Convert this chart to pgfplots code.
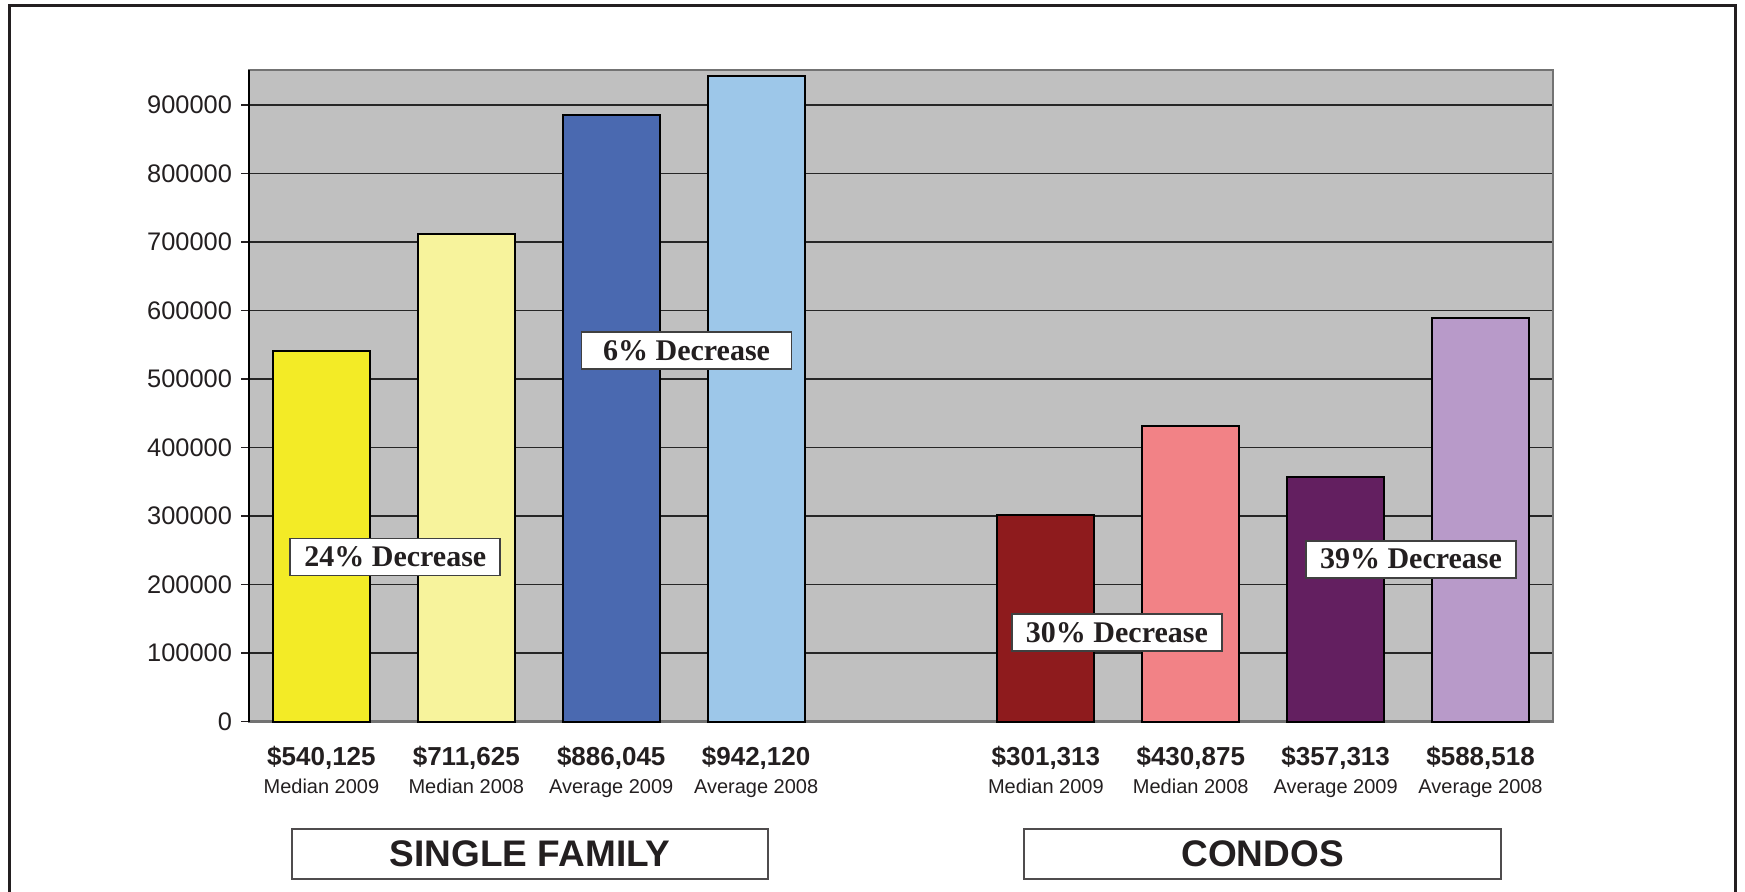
\documentclass[border=0pt]{standalone}
\usepackage{fontspec}
\setmainfont{Liberation Sans}
\newfontfamily\tnr{Liberation Serif}
\usepackage{pgfplots}
\pgfplotsset{compat=1.18}
\definecolor{txt}{HTML}{231F20}
\definecolor{plotbg}{HTML}{C0C0C0}
\definecolor{cA}{HTML}{F3EB26}
\definecolor{cB}{HTML}{F7F39C}
\definecolor{cC}{HTML}{4A69B0}
\definecolor{cD}{HTML}{9DC7E9}
\definecolor{cE}{HTML}{8E1B1D}
\definecolor{cF}{HTML}{F28286}
\definecolor{cG}{HTML}{631F60}
\definecolor{cH}{HTML}{B89AC9}
\newcommand\valf{\bfseries\fontsize{13}{15}\selectfont}
\newcommand\labf{\fontsize{10}{12}\selectfont}
\begin{document}
\begin{tikzpicture}[x=0.5pt,y=0.5pt]
\useasboundingbox (0,0) rectangle (1745,891);
\begin{scope}
\clip (0,0) rectangle (1745,891);
\draw[line width=1.5pt, draw=txt] (9,-20) -- (9,885) -- (1735,885) -- (1735,-20);
\end{scope}
\begin{axis}[
  at={(124.5pt,84.75pt)}, anchor=south west,
  scale only axis, width=652pt, height=325.75pt,
  xmin=-0.5, xmax=8.5, ymin=0, ymax=951000,
  axis background/.style={fill=plotbg},
  axis line style={draw=gray!90!black, line width=1.2pt},
  ybar, bar width=0.67,
  ytick={0,100000,...,900000},
  scaled y ticks=false,
  yticklabel style={/pgf/number format/fixed, /pgf/number format/1000 sep={}, font=\fontsize{12.7}{14}\selectfont, text=txt, xshift=-1pt},
  /pgf/number format/assume math mode=true,
  ytick pos=left, tick align=outside, major tick length=4pt,
  ytick style={draw=txt, line width=0.7pt},
  ymajorgrids, grid style={draw=black!85, line width=0.7pt},
  xtick={0,1,2,3,5,6,7,8},
  xtick style={draw=none},
  xticklabels={
    {{\valf\$540,125}\\[2pt]{\labf Median 2009}},
    {{\valf\$711,625}\\[2pt]{\labf Median 2008}},
    {{\valf\$886,045}\\[2pt]{\labf Average 2009}},
    {{\valf\$942,120}\\[2pt]{\labf Average 2008}},
    {{\valf\$301,313}\\[2pt]{\labf Median 2009}},
    {{\valf\$430,875}\\[2pt]{\labf Median 2008}},
    {{\valf\$357,313}\\[2pt]{\labf Average 2009}},
    {{\valf\$588,518}\\[2pt]{\labf Average 2008}}},
  xticklabel style={align=center, text=txt, yshift=-5pt},
  clip=false,
]
\addplot[fill=cA, draw=black, line width=1pt, bar shift=0pt] coordinates {(0,540125)};
\addplot[fill=cB, draw=black, line width=1pt, bar shift=0pt] coordinates {(1,711625)};
\addplot[fill=cC, draw=black, line width=1pt, bar shift=0pt] coordinates {(2,886045)};
\addplot[fill=cD, draw=black, line width=1pt, bar shift=0pt] coordinates {(3,942120)};
\addplot[fill=cE, draw=black, line width=1pt, bar shift=0pt] coordinates {(5,301313)};
\addplot[fill=cF, draw=black, line width=1pt, bar shift=0pt] coordinates {(6,430875)};
\addplot[fill=cG, draw=black, line width=1pt, bar shift=0pt] coordinates {(7,357313)};
\addplot[fill=cH, draw=black, line width=1pt, bar shift=0pt] coordinates {(8,588518)};
\draw[draw=black, line width=1pt] (rel axis cs:0,0) -- (rel axis cs:0,1);
\tikzset{dec/.style={draw=black!75, line width=0.9pt, fill=white, text=txt, font=\tnr\bfseries\fontsize{15}{17}\selectfont, minimum width=105pt, minimum height=18.5pt, inner sep=0pt}}
\node[dec] at (axis cs:0.51,240000) {24\% Decrease};
\node[dec] at (axis cs:2.52,541000) {6\% Decrease};
\node[dec] at (axis cs:5.49,130000) {30\% Decrease};
\node[dec] at (axis cs:7.52,237000) {39\% Decrease};
\end{axis}
\draw[draw=txt!80, line width=1pt] (292,62) rectangle (768,12);
\node[text=txt, font=\bfseries\fontsize{18.5}{20}\selectfont] at (530,37) {SINGLE FAMILY};
\draw[draw=txt!80, line width=1pt] (1024,62) rectangle (1501,12);
\node[text=txt, font=\bfseries\fontsize{18.5}{20}\selectfont] at (1262.5,37) {CONDOS};
\end{tikzpicture}
\end{document}
